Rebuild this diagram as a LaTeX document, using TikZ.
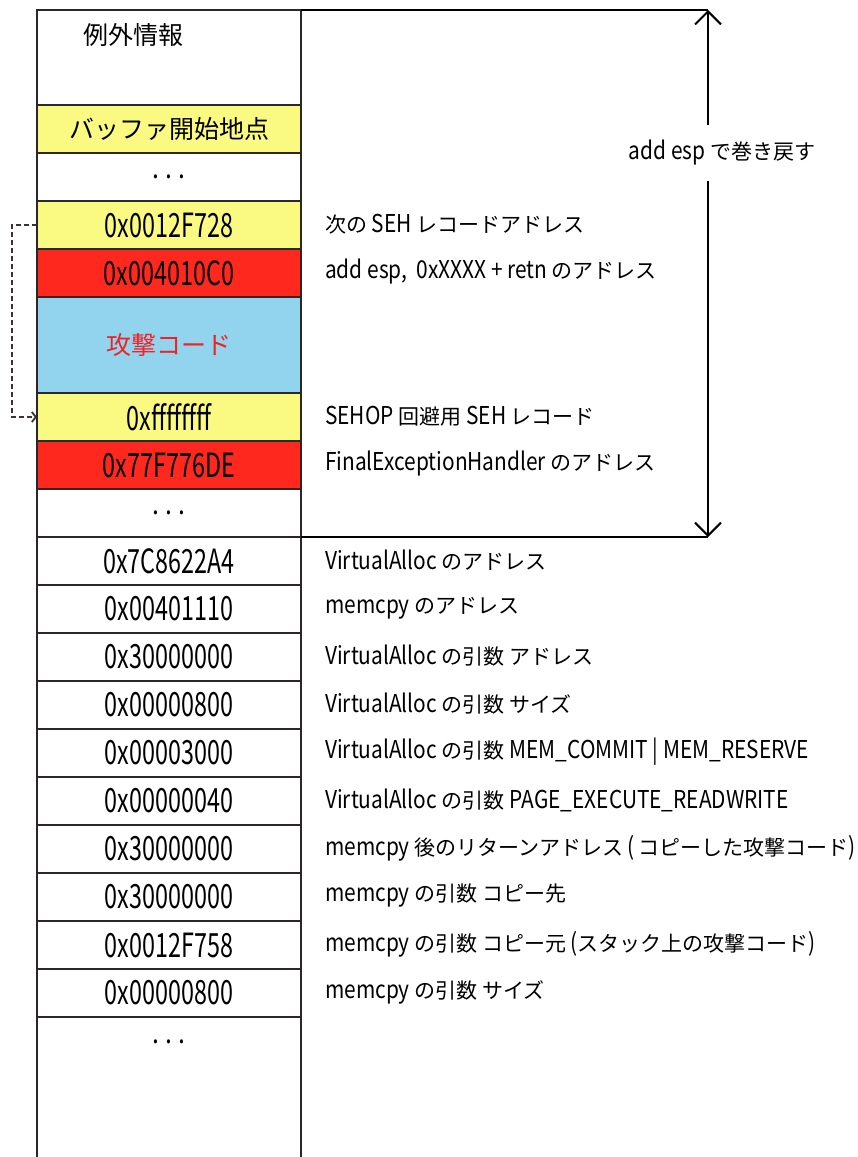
\documentclass[tikz,border=0pt]{standalone}
\usepackage{fontspec}
\setmainfont{Noto Sans CJK JP}
\newfontfamily\latfont[Scale=1.17,FakeStretch=0.85]{Noto Sans CJK JP}
\newfontfamily\hexfont[Scale=1.17,FakeStretch=0.7]{Noto Sans CJK JP}
\newcommand\lt[1]{{\latfont #1}}
\newcommand\dotsx{{\latfont .\hspace{6pt}.\hspace{6pt}.}}
\usetikzlibrary{arrows.meta}
\definecolor{cellline}{RGB}{45,38,38}
\definecolor{cyel}{RGB}{250,250,130}
\definecolor{cred}{RGB}{255,40,30}
\definecolor{cblue}{RGB}{146,211,238}
\definecolor{tred}{RGB}{240,35,35}
\definecolor{dashc}{RGB}{60,50,50}
\begin{document}
\begin{tikzpicture}[x=1pt,y=-1pt,
  cell/.style={draw=cellline,line width=2pt,minimum width=264pt,minimum height=48pt,inner sep=0pt,outer sep=0pt,font=\fontsize{25}{30}\selectfont},
  hex/.style={cell,font=\fontsize{28.5}{32}\selectfont\hexfont},
  desc/.style={anchor=west,inner sep=0pt,font=\fontsize{21}{25}\selectfont},
  frame/.style={draw=black,line width=2pt},
  barb/.style={frame,-{Straight Barb[length=13pt,width=26pt,line width=2pt]}}]
\useasboundingbox (0,0) rectangle (858,1157);
% left column
\node[cell,minimum height=95pt] (ex) at (169,57.5) {};
\node[anchor=west,inner sep=0pt,font=\fontsize{25}{30}\selectfont] (exl) at (83,35) {例外情報};
\node[cell,fill=cyel] (buf) at (169,129) {バッファ開始地点};
\node[cell] (d1) at (169,177) {\dotsx};
\node[hex,fill=cyel] (nseh) at (169,225) {0x0012F728};
\node[hex,fill=cred] (h1) at (169,273) {0x004010C0};
\node[cell,fill=cblue,minimum height=96pt,text=tred] (sc) at (169,345) {攻撃コード};
\node[hex,fill=cyel] (ff) at (169,417) {0xffffffff};
\node[hex,fill=cred] (feh) at (169,465) {0x77F776DE};
\node[cell] (d2) at (169,513) {\dotsx};
\node[hex] (r1) at (169,561) {0x7C8622A4};
\node[hex] (r2) at (169,609) {0x00401110};
\node[hex] (r3) at (169,657) {0x30000000};
\node[hex] (r4) at (169,705) {0x00000800};
\node[hex] (r5) at (169,753) {0x00003000};
\node[hex] (r6) at (169,801) {0x00000040};
\node[hex] (r7) at (169,849) {0x30000000};
\node[hex] (r8) at (169,897) {0x30000000};
\node[hex] (r9) at (169,945) {0x0012F758};
\node[hex] (r10) at (169,993) {0x00000800};
\coordinate (bl) at (37,1160);
\coordinate (br) at (301,1160);
\draw[draw=cellline,line width=2pt] (bl) -- (r10.south west) -- (r10.south east) -- (br);
\node[cell,draw=none,fill=none] (d3) at (169,1042) {\dotsx};
% dashed link
\draw[dashed,dash pattern=on 5pt off 3pt,line width=2pt,draw=dashc,-{Straight Barb[length=4pt,width=10pt,line width=1.8pt]}] (nseh.west) -- ++(-25,0) |- (ff.west);
% right frame and arrow
\coordinate (at) at (708,10);
\coordinate (ab) at (708,537);
\draw[frame] (ex.north east) -- (at);
\draw[frame] (d2.south east) -- (ab);
\node[desc,anchor=center,inner xsep=0pt,inner ysep=15pt] (rw) at (722,153) {\lt{add esp} で巻き戻す};
\draw[barb] (at |- rw.north) -- (at);
\draw[barb] (at |- rw.south) -- (ab);
% descriptions
\node[desc] (t1) at (325,224) {次の \lt{SEH} レコードアドレス};
\node[desc] (t2) at (325,272) {\lt{add esp,\ \ 0xXXXX + retn} のアドレス};
\node[desc] (t3) at (325,416) {\lt{SEHOP} 回避用 \lt{SEH} レコード};
\node[desc] (t4) at (325,464) {\lt{FinalExceptionHandler} のアドレス};
\node[desc] (t5) at (325,560) {\lt{VirtualAlloc} のアドレス};
\node[desc] (t6) at (325,608) {\lt{memcpy} のアドレス};
\node[desc] (t7) at (325,656) {\lt{VirtualAlloc} の引数 アドレス};
\node[desc] (t8) at (325,704) {\lt{VirtualAlloc} の引数 サイズ};
\node[desc] (t9) at (325,752) {\lt{VirtualAlloc} の引数 \lt{MEM\_COMMIT | MEM\_RESERVE}};
\node[desc] (t10) at (325,800) {\lt{VirtualAlloc} の引数 \lt{PAGE\_EXECUTE\_READWRITE}};
\node[desc] (t11) at (325,848) {\lt{memcpy} 後のリターンアドレス\lt{\,(\,}コピーした攻撃コード\lt{)}};
\node[desc] (t12) at (325,896) {\lt{memcpy} の引数 コピー先};
\node[desc] (t13) at (325,944) {\lt{memcpy} の引数 コピー元\lt{\ (}スタック上の攻撃コード\lt{)}};
\node[desc] (t14) at (325,992) {\lt{memcpy} の引数 サイズ};
\end{tikzpicture}
\end{document}
